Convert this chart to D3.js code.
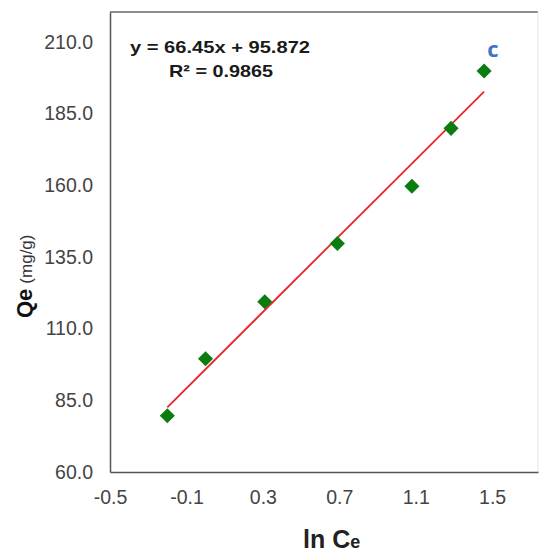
<!DOCTYPE html>
<html>
<head>
<meta charset="utf-8">
<script src="https://cdn.jsdelivr.net/npm/d3@7.9.0/dist/d3.min.js"></script>
<style>
  body { margin: 0; background: #fff; }
  svg { display: block; font-family: "Liberation Sans", Arial, sans-serif; }
</style>
</head>
<body>
<svg id="chart" width="543" height="558"></svg>
<script>
// values
const lnCe = [-0.20, 0.00, 0.31, 0.69, 1.08, 1.285, 1.458];
const qe = [79.6, 99.5, 119.4, 139.7, 159.7, 179.9, 199.9];
const xTicks = [-0.5, -0.1, 0.3, 0.7, 1.1, 1.5];
const yTicks = [60, 85, 110, 135, 160, 185, 210];
const slope = 66.45, intercept = 95.872;

const svg = d3.select('#chart');
const plotLeft = 110, plotRight = 538, plotTop = 12, plotBottom = 472;

const x = d3.scaleLinear().domain([-0.5, 1.74]).range([plotLeft, plotRight]);
const y = d3.scaleLinear().domain([60, 220.5]).range([plotBottom, plotTop]);

// frame
svg.append('line').attr('x1', plotLeft).attr('x2', plotRight).attr('y1', plotTop).attr('y2', plotTop)
  .attr('stroke', '#6a6a6a').attr('stroke-width', 1.5);
svg.append('line').attr('x1', plotRight).attr('x2', plotRight).attr('y1', plotTop).attr('y2', plotBottom)
  .attr('stroke', '#e4e4e4').attr('stroke-width', 1);

const fmt = d => d.toFixed(1);

const xAxis = svg.append('g').attr('transform', `translate(0,${plotBottom})`)
  .call(d3.axisBottom(x).tickValues(xTicks).tickSize(0).tickPadding(18).tickFormat(fmt));
xAxis.select('.domain').attr('stroke', '#555').attr('stroke-width', 1.5);
xAxis.selectAll('text').attr('font-size', 19.5).attr('fill', '#444')
  .attr('font-family', '"Liberation Sans", Arial, sans-serif');

const yAxis = svg.append('g').attr('transform', `translate(${plotLeft},0)`)
  .call(d3.axisLeft(y).tickValues(yTicks).tickSize(0).tickPadding(17).tickFormat(fmt));
yAxis.select('.domain').attr('stroke', '#555').attr('stroke-width', 1.5);
yAxis.selectAll('text').attr('font-size', 19.5).attr('fill', '#444')
  .attr('font-family', '"Liberation Sans", Arial, sans-serif');

// trendline
const xMin = d3.min(lnCe), xMax = d3.max(lnCe);
svg.append('line')
  .attr('x1', x(xMin)).attr('y1', y(slope * xMin + intercept))
  .attr('x2', x(xMax)).attr('y2', y(slope * xMax + intercept))
  .attr('stroke', '#e8262a').attr('stroke-width', 1.8);

// points
svg.selectAll('path.pt')
  .data(lnCe.map((v, i) => [v, qe[i]]))
  .join('path')
  .attr('class', 'pt')
  .attr('d', d3.symbol(d3.symbolDiamond2, 145))
  .attr('transform', d => `translate(${x(d[0])},${y(d[1])})`)
  .attr('fill', '#0a7d10');

// equation
svg.append('text').attr('x', 130).attr('y', 53)
  .attr('font-size', 17).attr('font-weight', 'bold').attr('fill', '#1a1a1a')
  .attr('textLength', 180).attr('lengthAdjust', 'spacingAndGlyphs')
  .text('y = 66.45x  + 95.872');
svg.append('text').attr('x', 169).attr('y', 77)
  .attr('font-size', 17).attr('font-weight', 'bold').attr('fill', '#1a1a1a')
  .attr('textLength', 104).attr('lengthAdjust', 'spacingAndGlyphs')
  .text('R² = 0.9865');

// panel letter
svg.append('text').attr('x', 493).attr('y', 57).attr('text-anchor', 'middle')
  .attr('font-size', 22).attr('font-weight', 'bold').attr('fill', '#4472c4')
  .attr('font-family', '"Open Sans", "DejaVu Sans", sans-serif')
  .text('c');

// y title
const yt = svg.append('text')
  .attr('transform', 'translate(32,318) rotate(-90)')
  .attr('fill', '#111');
yt.append('tspan').attr('font-size', 22).attr('font-weight', 'bold').text('Qe');
yt.append('tspan').attr('font-size', 17).attr('dx', 5).attr('fill', '#333').text('(mg/g)');

// x title
const xt = svg.append('text').attr('x', 303).attr('y', 548).attr('fill', '#222');
xt.append('tspan').attr('font-size', 25).attr('font-weight', 'bold').text('ln');
xt.append('tspan').attr('font-size', 25).attr('font-weight', 'bold').attr('dx', 7).text('C');
xt.append('tspan').attr('font-size', 18).attr('font-weight', 'bold').text('e');
</script>
</body>
</html>
